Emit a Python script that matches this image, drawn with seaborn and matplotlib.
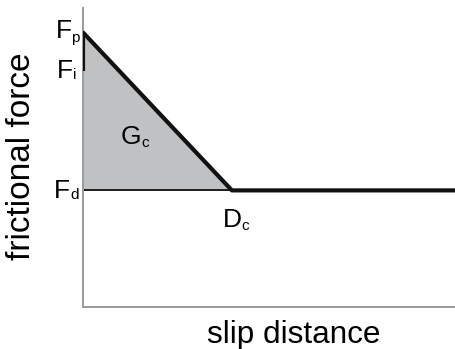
import matplotlib
matplotlib.use("Agg")
import matplotlib.pyplot as plt
import seaborn as sns
import pandas as pd

# --- data ---
slip_curve = [0.0, 4.0, 10.0]        # slip distance: start, Dc, end
force_curve = [9.2, 3.9, 3.9]        # Fp -> Fd, then constant Fd
init_slip = [0.0, 0.0]
init_force = [7.9, 9.2]              # Fi -> Fp at zero slip
Fp, Fi, Fd, Dc = 9.2, 7.9, 3.9, 4.0

sns.set_theme(style="white")
plt.rcParams['font.family'] = ['Liberation Sans', 'DejaVu Sans']
plt.rcParams['text.color'] = 'black'

fig = plt.figure(figsize=(4.56, 3.49), dpi=100)
W, H = 456, 349
X0, Y0, AW, AH = 82.5, 307, 456 - 82.5, 299
ax = fig.add_axes([X0 / W, 1 - Y0 / H, AW / W, AH / H])

df = pd.DataFrame({"slip": slip_curve, "force": force_curve})
df2 = pd.DataFrame({"slip": init_slip, "force": init_force})

ax.fill_between([0, Dc], [Fp, Fd], Fd, color="#c0c1c3", lw=0, zorder=1)
ax.plot([0, Dc], [Fd, Fd], color="#111111", lw=1.3, zorder=2)
sns.lineplot(data=df, x="slip", y="force", ax=ax, color="#111111", lw=3.0,
             zorder=3, solid_capstyle="butt", estimator=None, sort=False)
sns.lineplot(data=df2, x="slip", y="force", ax=ax, color="#111111", lw=3.0,
             zorder=3, solid_capstyle="butt", estimator=None, sort=False,
             units=[0, 0])

ax.set_xlim(0, 10)
ax.set_ylim(0, 10)
ax.set_xticks([])
ax.set_yticks([])
ax.set_xlabel("")
ax.set_ylabel("")
for s in ["top", "right"]:
    ax.spines[s].set_visible(False)
for s in ["left", "bottom"]:
    ax.spines[s].set_color("#9a9a9a")
    ax.spines[s].set_linewidth(1.4)


def dx(px):
    return (px - X0) / AW * 10


def dy(py):
    return (Y0 - py) / AH * 10


def label(main, sub, mx, my, sx, sy):
    ax.text(dx(mx), dy(my), main, fontsize=19, color="black", ha="left",
            va="baseline", clip_on=False)
    ax.text(dx(sx), dy(sy), sub, fontsize=11, color="black", ha="left",
            va="baseline", clip_on=False)


label("F", "p", 55.5, 38, 71, 42)
label("F", "i", 56.5, 78, 73, 79)
label("F", "d", 53.5, 198, 70, 199)
label("G", "c", 121, 144, 141, 147)
label("D", "c", 223, 227, 241, 230)

ax.text(dx(294), dy(343), "slip distance", fontsize=22.7, color="black",
        ha="center", va="baseline", clip_on=False)
ax.text(dx(21.5), dy(156), "frictional force", fontsize=24, color="black",
        ha="center", va="center", rotation=90, clip_on=False)

fig.savefig("out.png", dpi=100)
